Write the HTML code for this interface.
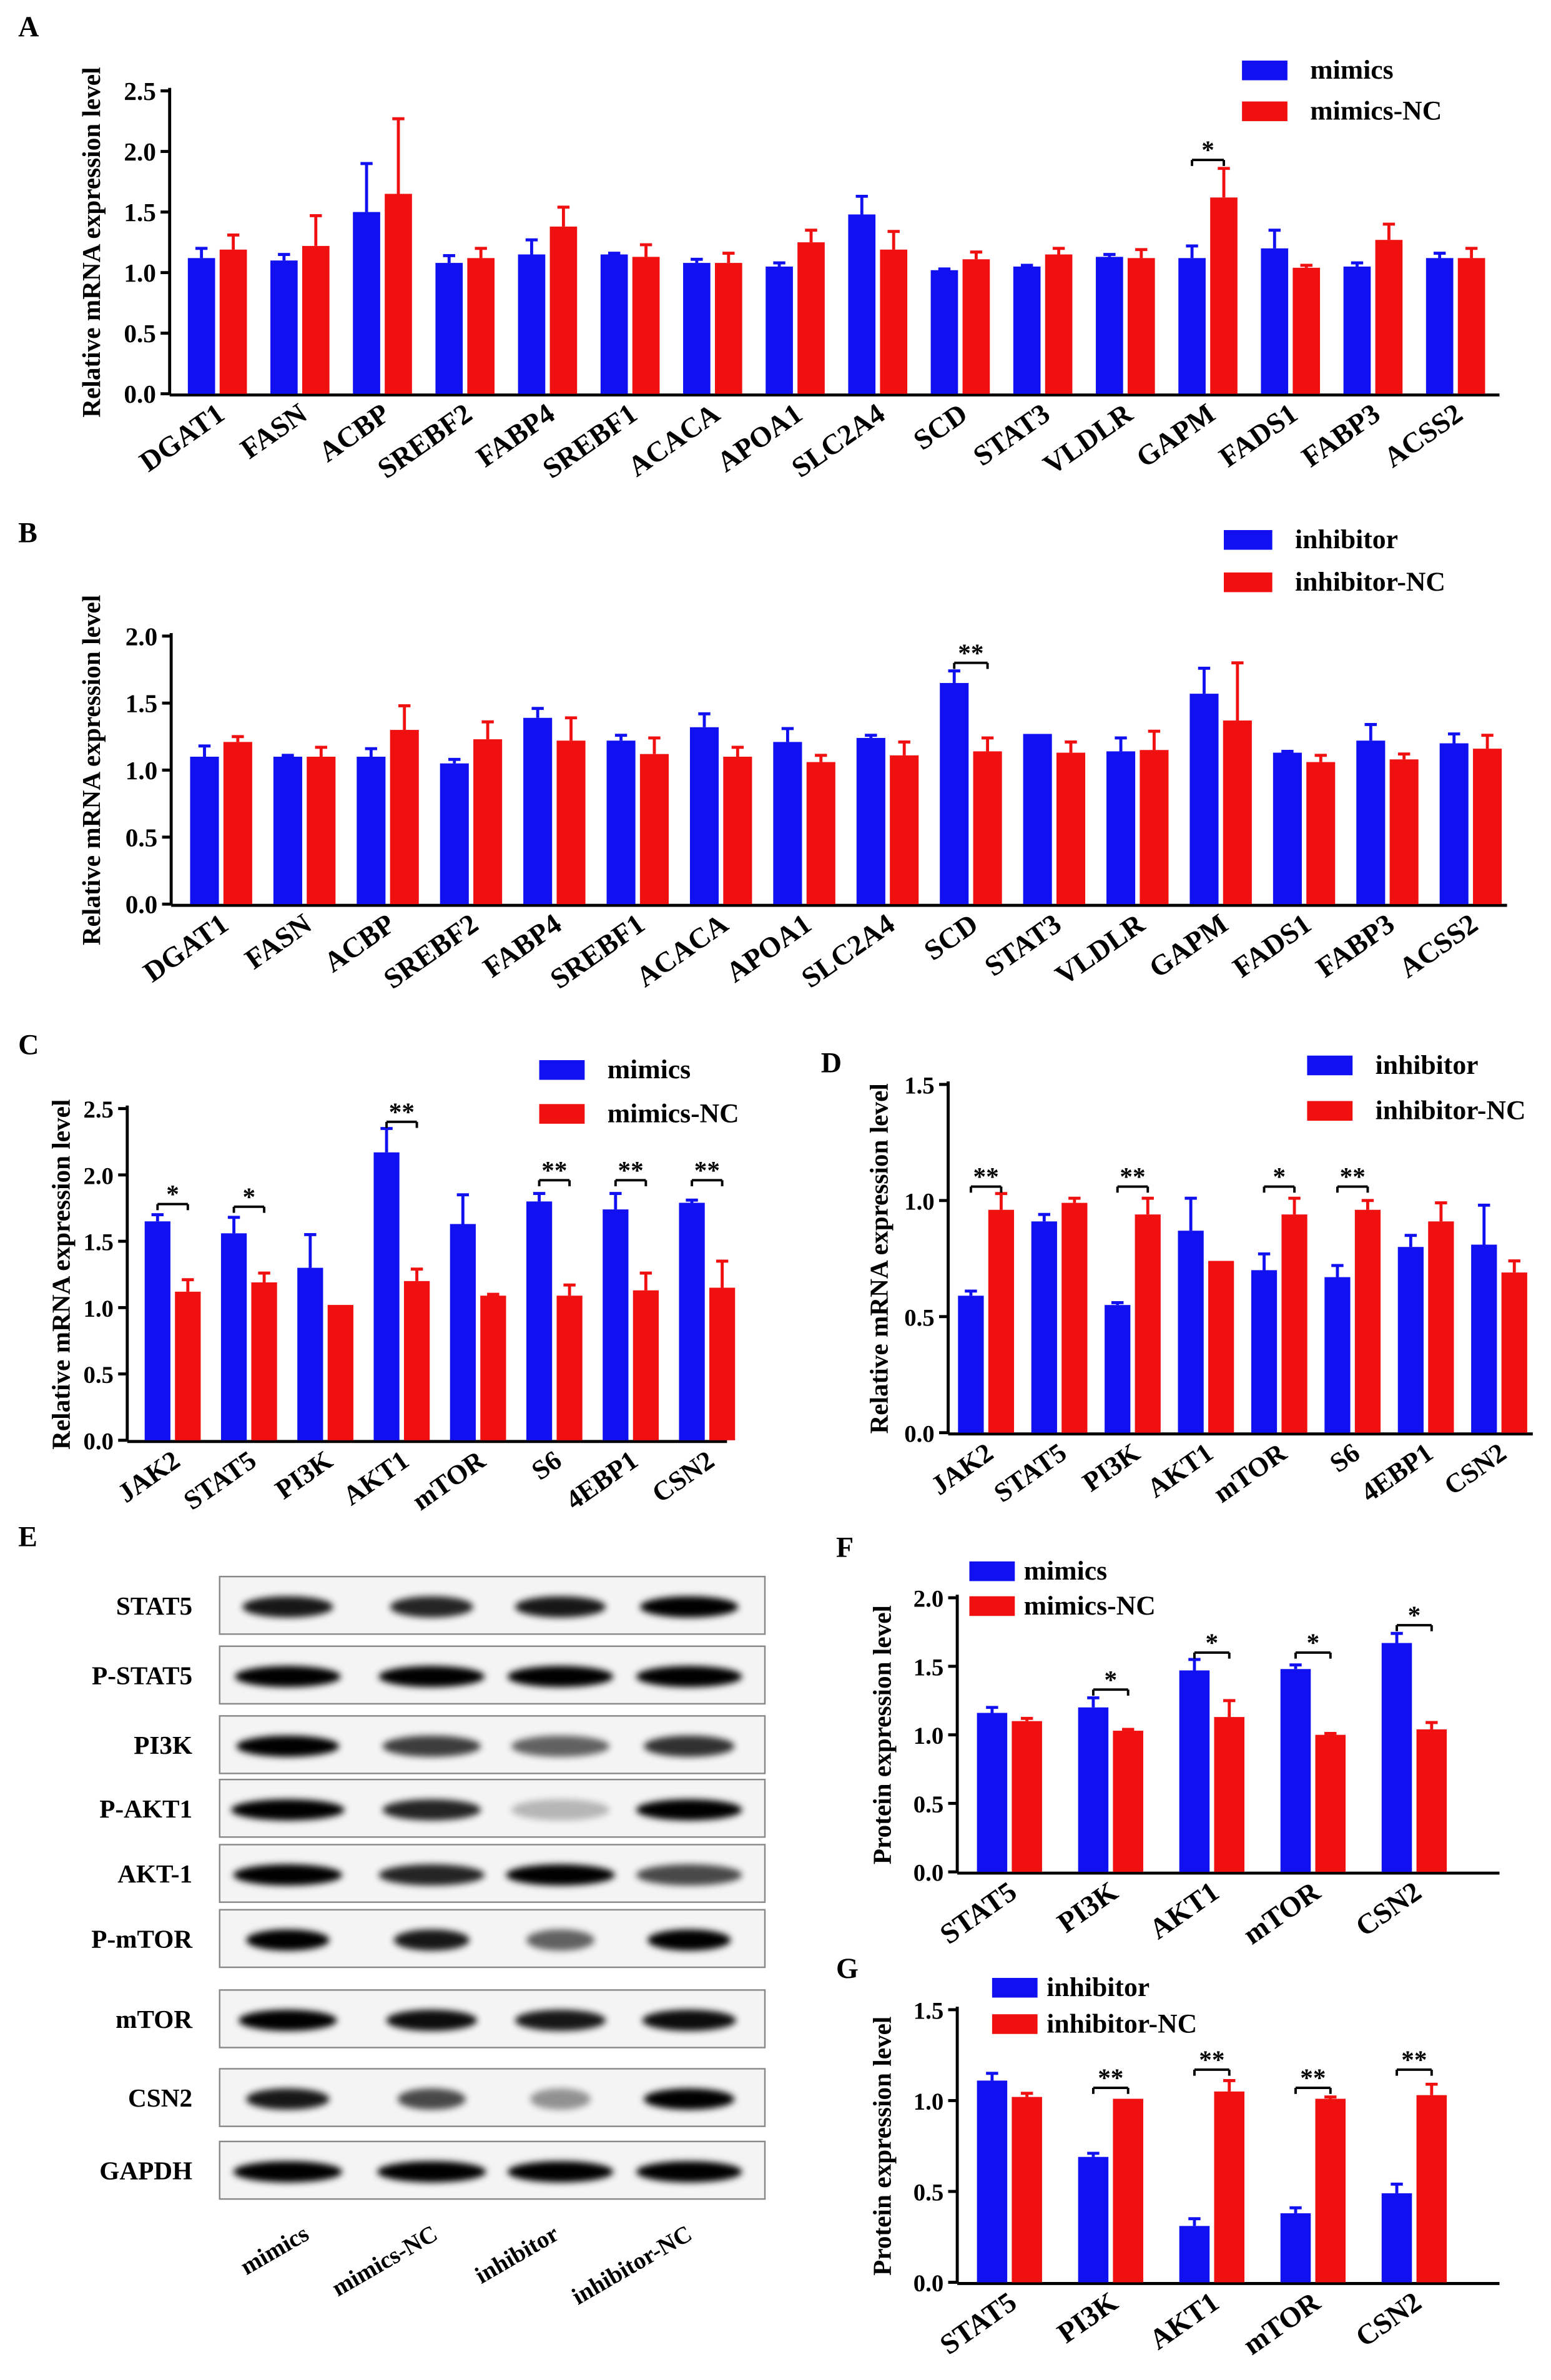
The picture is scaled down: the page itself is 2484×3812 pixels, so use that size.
<!DOCTYPE html>
<html><head><meta charset="utf-8"><style>
html,body{margin:0;padding:0;background:#fff}
svg{display:block}
text{font-family:"Liberation Serif",serif;font-weight:bold;fill:#000}
</style></head><body>
<svg id="s" width="2484" height="3812" viewBox="0 0 1024 1571.5" xmlns="http://www.w3.org/2000/svg">
<defs><filter id="bl" x="-20%" y="-100%" width="140%" height="300%"><feGaussianBlur stdDeviation="2.2"/></filter></defs>
</svg>
<script>
var s=document.getElementById('s'),h='';
var B='#1010f0',R='#f01010';
function t(x,y,str,sz,anc,rot){h+='<text x="'+x+'" y="'+y+'" font-size="'+sz+'" text-anchor="'+(anc||'start')+'"'+(rot!=null?' transform="rotate('+rot+' '+x+' '+y+')"':'')+'>'+str+'</text>';}
function ln(a,b,c,d,w){h+='<line x1="'+a+'" y1="'+b+'" x2="'+c+'" y2="'+d+'" stroke="#000" stroke-width="'+(w||1.6)+'"/>';}
function chart(o){
 var ax=o.ax,y0=o.y0,k=o.k;
 ln(ax,y0+0.8,o.xe,y0+0.8,2);ln(ax,y0,ax,y0-o.max*k-2,2);
 for(var v=0;v<=o.max+1e-9;v+=o.step){var y=y0-v*k;ln(ax-6,y,ax,y,2);t(ax-9,y+6,v.toFixed(1),o.fs,'end');}
 t(o.tx,(y0+y0-o.max*k)/2,o.title,o.tfs||17,'middle',-90);
 for(var i=0;i<o.lab.length;i++){
  var cx=o.c0+i*o.sp,bw=o.bw;
  [[o.b,o.be,B,cx],[o.r,o.re,R,cx+bw+o.gap]].forEach(function(a,j){
   var v=a[0][i],e=a[1][i],xc=a[3],x=xc-bw/2,y=y0-v*k;
   h+='<rect x="'+x+'" y="'+y+'" width="'+bw+'" height="'+(v*k)+'" fill="'+a[2]+'"/>';
   if(e>0){h+='<line x1="'+xc+'" y1="'+y+'" x2="'+xc+'" y2="'+(y-e*k)+'" stroke="'+a[2]+'" stroke-width="2"/>';
    h+='<line x1="'+(xc-4)+'" y1="'+(y-e*k)+'" x2="'+(xc+4)+'" y2="'+(y-e*k)+'" stroke="'+a[2]+'" stroke-width="2"/>';}
  });
  var lx=cx+bw/2+o.gap/2+6;t(lx,y0+16,o.lab[i],o.lfs,'end',-35);
  if(o.sig&&o.sig[i]){var yb=y0-o.sy[i]*k,xb1=cx,xb2=cx+bw+o.gap;
   ln(xb1,yb+4,xb1,yb);ln(xb1,yb,xb2,yb);ln(xb2,yb,xb2,yb+4);t((xb1+xb2)/2,yb-1,o.sig[i],17,'middle');}
 }
 var L=o.leg;h+='<rect x="'+L[0]+'" y="'+L[1]+'" width="'+L[3]+'" height="13" fill="'+B+'"/><rect x="'+L[0]+'" y="'+(L[1]+L[2])+'" width="'+L[3]+'" height="13" fill="'+R+'"/>';
 t(L[0]+L[3]+L[6],L[1]+12,L[4],L[7]);t(L[0]+L[3]+L[6],L[1]+L[2]+12,L[5],L[7]);
}
var G16=['DGAT1','FASN','ACBP','SREBF2','FABP4','SREBF1','ACACA','APOA1','SLC2A4','SCD','STAT3','VLDLR','GAPM','FADS1','FABP3','ACSS2'];
t(12,24,'A',19);
chart({ax:112,y0:260,k:80,max:2.5,step:0.5,xe:990,fs:17,tx:66,title:'Relative mRNA expression level',lab:G16,c0:133,sp:54.5,bw:18,gap:3,lfs:19,
b:[1.12,1.10,1.50,1.08,1.15,1.15,1.08,1.05,1.48,1.02,1.05,1.13,1.12,1.20,1.05,1.12],be:[.08,.05,.4,.06,.12,.01,.03,.03,.15,.01,.01,.02,.1,.15,.03,.04],
r:[1.19,1.22,1.65,1.12,1.38,1.13,1.08,1.25,1.19,1.11,1.15,1.12,1.62,1.04,1.27,1.12],re:[.12,.25,.62,.08,.16,.1,.08,.1,.15,.06,.05,.07,.24,.02,.13,.08],
sig:{12:'*'},sy:{12:1.93},leg:[820,40,27,30,'mimics','mimics-NC',15,18]});
t(12,358,'B',19);
chart({ax:113,y0:597,k:88.5,max:2.0,step:0.5,xe:995,fs:17,tx:66,title:'Relative mRNA expression level',lab:G16,c0:135,sp:55,bw:19,gap:3,lfs:19,
b:[1.10,1.10,1.10,1.05,1.39,1.22,1.32,1.21,1.24,1.65,1.27,1.14,1.57,1.13,1.22,1.20],be:[.08,.01,.06,.03,.07,.04,.1,.1,.02,.09,0,.1,.19,.01,.12,.07],
r:[1.21,1.10,1.30,1.23,1.22,1.12,1.10,1.06,1.11,1.14,1.13,1.15,1.37,1.06,1.08,1.16],re:[.04,.07,.18,.13,.17,.12,.07,.05,.1,.1,.08,.14,.43,.05,.04,.1],
sig:{9:'**'},sy:{9:1.8},leg:[808,350,28,32,'inhibitor','inhibitor-NC',15,18]});
var G8=['JAK2','STAT5','PI3K','AKT1','mTOR','S6','4EBP1','CSN2'];
t(12,696,'C',19);
chart({ax:84,y0:951,k:87.6,max:2.5,step:0.5,xe:480,fs:16,tx:46,title:'Relative mRNA expression level',lab:G8,c0:104,sp:50.4,bw:17,gap:3,lfs:18,
b:[1.65,1.56,1.30,2.17,1.63,1.80,1.74,1.79],be:[.05,.12,.25,.18,.22,.06,.12,.02],
r:[1.12,1.19,1.02,1.20,1.09,1.09,1.13,1.15],re:[.09,.07,0,.09,.01,.08,.13,.2],
sig:{0:'*',1:'*',3:'**',5:'**',6:'**',7:'**'},sy:{0:1.78,1:1.76,3:2.4,5:1.96,6:1.96,7:1.96},leg:[356,700,29,30,'mimics','mimics-NC',15,18]});
t(542,708,'D',19);
chart({ax:626,y0:946,k:153.3,max:1.5,step:0.5,xe:1012,fs:16,tx:586,title:'Relative mRNA expression level',lab:G8,c0:641,sp:48.4,bw:17,gap:3,lfs:18,
b:[.59,.91,.55,.87,.70,.67,.80,.81],be:[.02,.03,.01,.14,.07,.05,.05,.17],
r:[.96,.99,.94,.74,.94,.96,.91,.69],re:[.07,.02,.07,0,.07,.04,.08,.05],
sig:{0:'**',2:'**',4:'*',5:'**'},sy:{0:1.06,2:1.06,4:1.06,5:1.06},leg:[863,697,30,30,'inhibitor','inhibitor-NC',15,18]});
var G5=['STAT5','PI3K','AKT1','mTOR','CSN2'];
t(552,1028,'F',19);
chart({ax:632,y0:1236,k:90.5,max:2.0,step:0.5,xe:990,fs:16,tx:588,tfs:17,title:'Protein expression level',lab:G5,c0:655,sp:66.8,bw:20,gap:3,lfs:19,
b:[1.16,1.20,1.47,1.48,1.67],be:[.04,.07,.08,.03,.07],r:[1.10,1.03,1.13,1.00,1.04],re:[.02,.01,.12,.01,.05],
sig:{1:'*',2:'*',3:'*',4:'*'},sy:{1:1.33,2:1.6,3:1.6,4:1.8},leg:[640,1031,23,30,'mimics','mimics-NC',6,18]});
t(552,1306,'G',19);
chart({ax:632,y0:1507,k:120,max:1.5,step:0.5,xe:990,fs:16,tx:588,tfs:17,title:'Protein expression level',lab:G5,c0:655,sp:66.8,bw:20,gap:3,lfs:19,
b:[1.11,.69,.31,.38,.49],be:[.04,.02,.04,.03,.05],r:[1.02,1.01,1.05,1.01,1.03],re:[.02,0,.06,.01,.06],
sig:{1:'**',2:'**',3:'**',4:'**'},sy:{1:1.07,2:1.17,3:1.07,4:1.17},leg:[655,1306,24,30,'inhibitor','inhibitor-NC',6,18]});
t(12,1021,'E',19);
var rows=[['STAT5',1060],['P-STAT5',1106],['PI3K',1152],['P-AKT1',1194],['AKT-1',1237],['P-mTOR',1280],['mTOR',1333],['CSN2',1385],['GAPDH',1433]];
var ints=[[.9,.85,.9,1],[1,1,1,1],[1,.75,.6,.8],[1,.85,.25,1],[1,.85,1,.7],[1,.9,.6,1],[1,.95,.9,.95],[.9,.7,.4,1],[1,1,1,1]];
var wid=[[60,55,60,65],[70,70,70,70],[68,65,65,60],[75,65,65,70],[72,70,72,70],[55,50,45,55],[65,60,60,62],[55,45,40,60],[72,72,70,70]];
for(var r=0;r<rows.length;r++){var y=rows[r][1];
 h+='<rect x="145" y="'+(y-19)+'" width="360" height="38" fill="#f4f4f4" stroke="#888" stroke-width="1"/>';
 t(127,y+6,rows[r][0],17,'end');
 var xs=[190,285,370,455];
 for(var c=0;c<4;c++){var a=ints[r][c];h+='<ellipse cx="'+xs[c]+'" cy="'+(y+1)+'" rx="'+(wid[r][c]/2)+'" ry="7" fill="#000" opacity="'+a+'" filter="url(#bl)"/>';}
}
var cl=['mimics','mimics-NC','inhibitor','inhibitor-NC'],cxs=[205,290,370,458];
for(var c=0;c<4;c++)t(cxs[c],1478,cl[c],16,'end',-30);
s.innerHTML+=h;
</script>
</body></html>
